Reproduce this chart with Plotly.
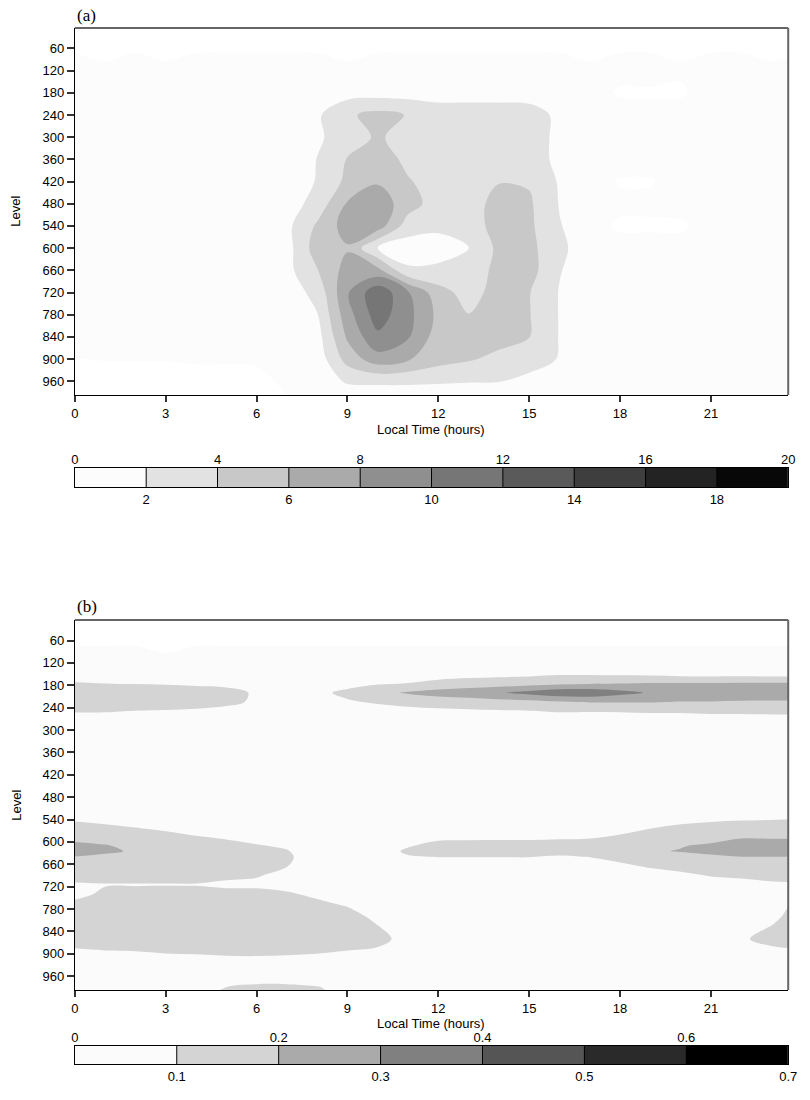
import plotly.graph_objects as go

# ---------------- data ----------------
hours = [0, 1, 2, 3, 4, 5, 6, 7, 8, 9, 10, 11, 12, 13, 14, 15, 16, 17, 18, 19, 20, 21, 22, 23, 24]
x_ticks = [0, 3, 6, 9, 12, 15, 18, 21]
level_ticks = [60, 120, 180, 240, 300, 360, 420, 480, 540, 600, 660, 720, 780, 840, 900, 960]

# panel (a)
levels_a = [0, 60, 120, 180, 240, 300, 360, 420, 480, 540, 600, 660, 720, 780, 840, 900, 960, 1020]
values_a = [
    [-0.5, -0.5, -0.5, -0.5, -0.5, -0.5, -0.5, -0.5, -0.5, -0.5, -0.5, -0.5, -0.5, -0.5, -0.5, -0.5, -0.5, -0.5, -0.5, -0.5, -0.5, -0.5, -0.5, -0.5, -0.5],
    [-0.2, -0.4, -0.2, -0.4, -0.2, -0.2, -0.2, -0.2, -0.2, -0.4, -0.2, -0.2, -0.2, -0.2, -0.2, -0.2, -0.2, -0.4, -0.2, -0.2, -0.4, -0.2, -0.2, -0.4, -0.2],
    [0.8, 0.3, 0.8, 0.3, 0.8, 0.8, 0.8, 0.8, 0.8, 0.3, 0.8, 0.8, 0.8, 0.8, 0.8, 0.8, 0.8, 0.3, 0.8, 0.8, 0.3, 0.8, 0.8, 0.3, 0.8],
    [1.0, 1.0, 1.0, 1.0, 1.0, 1.0, 1.0, 1.0, 1.2, 1.2, 1.2, 1.2, 1.2, 1.2, 1.2, 1.2, 1.0, 1.0, -0.3, -0.3, -0.3, 1.0, 1.0, 1.0, 1.0],
    [1.0, 1.0, 1.0, 1.0, 1.0, 1.0, 1.0, 0.8, 1.7, 3.7, 4.6, 3.9, 3.0, 3.0, 3.0, 2.8, 1.6, 1.0, 1.0, 1.0, 1.0, 1.0, 1.0, 1.0, 1.0],
    [1.0, 1.0, 1.0, 1.0, 1.0, 1.0, 1.0, 0.8, 1.6, 3.3, 4.2, 3.4, 3.0, 3.0, 3.0, 2.8, 1.6, 1.0, 1.0, 1.0, 1.0, 1.0, 1.0, 1.0, 1.0],
    [1.0, 1.0, 1.0, 1.0, 1.0, 1.0, 1.0, 0.9, 2.05, 4.1, 5.3, 3.4, 3.0, 3.0, 2.9, 2.8, 1.6, 1.0, 1.0, 1.0, 1.0, 1.0, 1.0, 1.0, 1.0],
    [1.0, 1.0, 1.0, 1.0, 1.0, 1.0, 1.0, 1.0, 2.1, 4.5, 5.8, 4.2, 3.0, 2.9, 3.9, 3.8, 1.8, 1.0, -0.2, -0.2, 1.0, 1.0, 1.0, 1.0, 1.0],
    [1.0, 1.0, 1.0, 1.0, 1.0, 1.0, 1.0, 1.0, 2.8, 6.2, 7.2, 4.9, 3.0, 3.0, 4.8, 4.3, 1.9, 1.0, 0.6, 0.6, 1.0, 1.0, 1.0, 1.0, 1.0],
    [1.0, 1.0, 1.0, 1.0, 1.0, 1.0, 1.0, 1.5, 4.3, 6.9, 7.0, 3.0, 2.4, 3.0, 4.8, 4.4, 2.1, 1.0, -0.4, -0.4, -0.4, 1.0, 1.0, 1.0, 1.0],
    [1.0, 1.0, 1.0, 1.0, 1.0, 1.0, 1.0, 1.2, 5.0, 5.8, 1.9, 1.0, 1.2, 1.9, 4.5, 4.6, 2.4, 1.0, 1.0, 1.0, 1.0, 1.0, 1.0, 1.0, 1.0],
    [1.0, 1.0, 1.0, 1.0, 1.0, 1.0, 1.0, 1.4, 3.9, 6.8, 6.6, 2.3, 2.4, 2.8, 4.6, 4.8, 2.1, 1.0, 1.0, 1.0, 1.0, 1.0, 1.0, 1.0, 1.0],
    [1.0, 1.0, 1.0, 1.0, 1.0, 1.0, 1.0, 1.0, 2.6, 7.8, 11.5, 8.2, 4.8, 3.2, 4.8, 4.1, 1.9, 1.0, 1.0, 1.0, 1.0, 1.0, 1.0, 1.0, 1.0],
    [1.0, 1.0, 1.0, 1.0, 1.0, 1.0, 1.0, 0.8, 1.9, 7.2, 11.0, 8.6, 5.5, 4.05, 4.7, 4.1, 1.9, 1.0, 1.0, 1.0, 1.0, 1.0, 1.0, 1.0, 1.0],
    [1.0, 1.0, 1.0, 1.0, 1.0, 1.0, 1.0, 0.8, 1.2, 6.3, 9.6, 8.2, 5.0, 4.7, 4.7, 4.05, 1.9, 1.0, 1.0, 1.0, 1.0, 1.0, 1.0, 1.0, 1.0],
    [-0.02, 0.05, 0.05, 0.05, 0.15, 0.15, 0.15, 0.6, 0.8, 4.8, 7.2, 6.2, 4.8, 4.2, 3.5, 2.8, 1.9, 1.0, 1.0, 1.0, 1.0, 1.0, 1.0, 1.0, 1.0],
    [-0.5, -0.5, -0.5, -0.5, -0.5, -0.5, -0.3, 0.2, 1.0, 2.2, 2.3, 2.3, 2.2, 2.1, 2.05, 1.5, 1.2, 1.0, 1.0, 1.0, 1.0, 1.0, 1.0, 1.0, 1.0],
    [-0.5, -0.5, -0.5, -0.5, -0.5, -0.5, -0.5, -0.1, 0.3, 0.5, 0.5, 0.5, 0.5, 0.5, 0.5, 0.5, 0.8, 0.8, 0.8, 0.8, 0.8, 0.8, 0.8, 0.8, 0.8],
]
bounds_a = [0, 2, 4, 6, 8, 10, 12, 14, 16, 18, 20]
grays_a = [252, 226, 200, 170, 143, 118, 90, 62, 35, 8]
top_labels_a = [0, 4, 8, 12, 16, 20]
bottom_labels_a = [2, 6, 10, 14, 18]

# panel (b)
levels_b = [0, 60, 120, 150, 175, 200, 225, 250, 275, 320, 500, 540, 565, 590, 610, 625, 640,
            665, 690, 715, 740, 770, 800, 830, 860, 890, 920, 960, 990, 1020]
values_b = [
    [-0.3, -0.3, -0.3, -0.3, -0.3, -0.3, -0.3, -0.3, -0.3, -0.3, -0.3, -0.3, -0.3, -0.3, -0.3, -0.3, -0.3, -0.3, -0.3, -0.3, -0.3, -0.3, -0.3, -0.3, -0.3],
    [-0.02, -0.02, -0.02, -0.05, -0.02, -0.02, -0.02, -0.02, -0.02, -0.02, -0.02, -0.02, -0.02, -0.02, -0.02, -0.02, -0.02, -0.02, -0.02, -0.02, -0.02, -0.02, -0.02, -0.02, -0.02],
    [0.06, 0.06, 0.06, 0.04, 0.06, 0.06, 0.06, 0.06, 0.06, 0.06, 0.06, 0.06, 0.06, 0.06, 0.06, 0.06, 0.06, 0.06, 0.06, 0.06, 0.06, 0.06, 0.06, 0.06, 0.06],
    [0.06, 0.06, 0.06, 0.05, 0.05, 0.05, 0.05, 0.05, 0.05, 0.05, 0.05, 0.06, 0.07, 0.07, 0.075, 0.08, 0.09, 0.09, 0.085, 0.08, 0.07, 0.065, 0.065, 0.06, 0.06],
    [0.105, 0.1, 0.095, 0.09, 0.08, 0.07, 0.06, 0.05, 0.055, 0.07, 0.09, 0.102, 0.12, 0.14, 0.15, 0.16, 0.18, 0.19, 0.198, 0.205, 0.205, 0.205, 0.21, 0.21, 0.21],
    [0.16, 0.16, 0.16, 0.155, 0.15, 0.14, 0.085, 0.06, 0.08, 0.12, 0.17, 0.21, 0.24, 0.26, 0.29, 0.33, 0.37, 0.37, 0.33, 0.29, 0.28, 0.27, 0.26, 0.25, 0.25],
    [0.16, 0.16, 0.16, 0.155, 0.15, 0.13, 0.08, 0.06, 0.075, 0.09, 0.11, 0.13, 0.14, 0.15, 0.16, 0.17, 0.19, 0.205, 0.205, 0.205, 0.195, 0.195, 0.19, 0.19, 0.19],
    [0.105, 0.105, 0.095, 0.09, 0.08, 0.06, 0.05, 0.05, 0.05, 0.05, 0.06, 0.07, 0.08, 0.085, 0.09, 0.095, 0.105, 0.103, 0.105, 0.11, 0.11, 0.115, 0.115, 0.12, 0.12],
    [0.06, 0.055, 0.05, 0.05, 0.05, 0.05, 0.05, 0.05, 0.05, 0.05, 0.05, 0.05, 0.05, 0.05, 0.05, 0.05, 0.055, 0.05, 0.05, 0.055, 0.055, 0.06, 0.06, 0.06, 0.06],
    [0.05, 0.05, 0.05, 0.05, 0.05, 0.05, 0.05, 0.05, 0.05, 0.05, 0.05, 0.05, 0.05, 0.05, 0.05, 0.05, 0.05, 0.05, 0.05, 0.05, 0.05, 0.05, 0.05, 0.05, 0.05],
    [0.05, 0.05, 0.05, 0.05, 0.05, 0.05, 0.05, 0.05, 0.05, 0.05, 0.05, 0.05, 0.05, 0.05, 0.05, 0.05, 0.05, 0.05, 0.05, 0.05, 0.05, 0.05, 0.05, 0.05, 0.05],
    [0.09, 0.08, 0.07, 0.06, 0.05, 0.05, 0.05, 0.05, 0.05, 0.05, 0.05, 0.05, 0.05, 0.05, 0.05, 0.05, 0.05, 0.05, 0.05, 0.06, 0.08, 0.09, 0.095, 0.098, 0.102],
    [0.14, 0.12, 0.105, 0.09, 0.07, 0.06, 0.05, 0.05, 0.05, 0.05, 0.05, 0.05, 0.05, 0.05, 0.05, 0.05, 0.05, 0.055, 0.07, 0.102, 0.12, 0.13, 0.14, 0.14, 0.14],
    [0.18, 0.17, 0.15, 0.13, 0.11, 0.095, 0.08, 0.07, 0.05, 0.05, 0.05, 0.07, 0.09, 0.09, 0.09, 0.09, 0.095, 0.098, 0.12, 0.15, 0.16, 0.17, 0.198, 0.195, 0.195],
    [0.22, 0.205, 0.18, 0.16, 0.14, 0.125, 0.105, 0.09, 0.05, 0.05, 0.06, 0.095, 0.12, 0.125, 0.13, 0.13, 0.13, 0.13, 0.14, 0.18, 0.195, 0.215, 0.25, 0.26, 0.26],
    [0.24, 0.215, 0.19, 0.17, 0.155, 0.14, 0.125, 0.105, 0.05, 0.05, 0.07, 0.11, 0.13, 0.13, 0.135, 0.135, 0.13, 0.135, 0.15, 0.19, 0.205, 0.23, 0.26, 0.27, 0.27],
    [0.198, 0.18, 0.17, 0.165, 0.16, 0.15, 0.14, 0.115, 0.05, 0.05, 0.06, 0.095, 0.102, 0.102, 0.102, 0.102, 0.09, 0.102, 0.13, 0.16, 0.17, 0.18, 0.198, 0.198, 0.198],
    [0.16, 0.15, 0.15, 0.15, 0.15, 0.145, 0.13, 0.102, 0.05, 0.05, 0.05, 0.06, 0.06, 0.06, 0.06, 0.06, 0.06, 0.065, 0.08, 0.11, 0.13, 0.145, 0.16, 0.16, 0.16],
    [0.13, 0.13, 0.13, 0.13, 0.13, 0.12, 0.105, 0.08, 0.05, 0.05, 0.05, 0.05, 0.05, 0.05, 0.05, 0.05, 0.05, 0.05, 0.05, 0.06, 0.08, 0.105, 0.115, 0.125, 0.13],
    [0.09, 0.095, 0.095, 0.095, 0.095, 0.08, 0.085, 0.075, 0.06, 0.05, 0.05, 0.05, 0.05, 0.05, 0.05, 0.05, 0.05, 0.05, 0.05, 0.05, 0.05, 0.06, 0.07, 0.085, 0.09],
    [0.07, 0.12, 0.13, 0.14, 0.14, 0.135, 0.125, 0.11, 0.085, 0.06, 0.05, 0.05, 0.05, 0.05, 0.05, 0.05, 0.05, 0.05, 0.05, 0.05, 0.05, 0.05, 0.05, 0.06, 0.08],
    [0.13, 0.16, 0.17, 0.18, 0.18, 0.175, 0.17, 0.15, 0.12, 0.095, 0.06, 0.05, 0.05, 0.05, 0.05, 0.05, 0.05, 0.05, 0.05, 0.05, 0.05, 0.05, 0.05, 0.07, 0.12],
    [0.16, 0.17, 0.18, 0.19, 0.19, 0.19, 0.185, 0.17, 0.15, 0.13, 0.08, 0.05, 0.05, 0.05, 0.05, 0.05, 0.05, 0.05, 0.05, 0.05, 0.05, 0.05, 0.05, 0.08, 0.14],
    [0.17, 0.17, 0.18, 0.19, 0.19, 0.19, 0.185, 0.17, 0.16, 0.145, 0.105, 0.06, 0.05, 0.05, 0.05, 0.05, 0.05, 0.05, 0.05, 0.05, 0.05, 0.05, 0.07, 0.105, 0.15],
    [0.15, 0.15, 0.16, 0.17, 0.175, 0.175, 0.17, 0.16, 0.15, 0.14, 0.125, 0.07, 0.05, 0.05, 0.05, 0.05, 0.05, 0.05, 0.05, 0.05, 0.05, 0.06, 0.09, 0.125, 0.14],
    [0.09, 0.102, 0.105, 0.115, 0.12, 0.13, 0.135, 0.125, 0.115, 0.102, 0.09, 0.06, 0.05, 0.05, 0.05, 0.05, 0.05, 0.05, 0.05, 0.05, 0.05, 0.05, 0.06, 0.085, 0.095],
    [0.06, 0.06, 0.06, 0.065, 0.065, 0.07, 0.07, 0.07, 0.07, 0.06, 0.06, 0.05, 0.05, 0.05, 0.05, 0.05, 0.05, 0.05, 0.05, 0.05, 0.05, 0.05, 0.05, 0.055, 0.06],
    [0.05, 0.05, 0.05, 0.05, 0.05, 0.05, 0.05, 0.05, 0.05, 0.05, 0.05, 0.05, 0.05, 0.05, 0.05, 0.05, 0.05, 0.05, 0.05, 0.05, 0.05, 0.05, 0.05, 0.05, 0.05],
    [0.05, 0.05, 0.05, 0.05, 0.07, 0.101, 0.12, 0.12, 0.105, 0.07, 0.05, 0.05, 0.05, 0.05, 0.05, 0.05, 0.05, 0.05, 0.05, 0.05, 0.05, 0.05, 0.05, 0.05, 0.05],
    [0.05, 0.05, 0.05, 0.05, 0.08, 0.13, 0.14, 0.14, 0.13, 0.08, 0.05, 0.05, 0.05, 0.05, 0.05, 0.05, 0.05, 0.05, 0.05, 0.05, 0.05, 0.05, 0.05, 0.05, 0.05],
]
bounds_b = [0, 0.1, 0.2, 0.3, 0.4, 0.5, 0.6, 0.7]
grays_b = [251, 212, 170, 128, 85, 42, 0]
top_labels_b = [0, 0.2, 0.4, 0.6]
bottom_labels_b = [0.1, 0.3, 0.5, 0.7]

# ---------------- helpers ----------------
W, H = 810, 1100
FONT = "Liberation Sans, Arial, Helvetica, sans-serif"
SERIF = "Liberation Serif, Times New Roman, serif"


def px_x(p):
    return p / W


def px_y(p):
    return 1 - p / H


def gray(v):
    return f"rgb({v},{v},{v})"


def step_scale(bounds, grays):
    """Stepwise colour scale matching plotly contour fill mapping
    (z domain = [start - size/2, end + size/2])."""
    size = bounds[1] - bounds[0]
    lo = bounds[0] - size / 2
    hi = bounds[-1] + size / 2
    cols = [gray(255)] + [gray(g) for g in grays] + [gray(grays[-1])]
    edges = [lo] + list(bounds) + [hi]
    cs = []
    for i, c in enumerate(cols):
        s0 = (edges[i] - lo) / (hi - lo)
        s1 = (edges[i + 1] - lo) / (hi - lo)
        cs.append([max(0.0, min(1.0, s0)), c])
        cs.append([max(0.0, min(1.0, s1)), c])
    return cs, lo, hi


cs_a, lo_a, hi_a = step_scale(bounds_a, grays_a)
cs_b, lo_b, hi_b = step_scale(bounds_b, grays_b)

fig = go.Figure()

# main contours
fig.add_trace(go.Contour(
    x=hours, y=levels_a, z=values_a, xaxis="x", yaxis="y",
    colorscale=cs_a, zmin=lo_a, zmax=hi_a, autocontour=False,
    contours=dict(start=bounds_a[0], end=bounds_a[-1], size=bounds_a[1] - bounds_a[0],
                  coloring="fill", showlines=False),
    line=dict(width=0), showscale=False, hoverinfo="skip"))

fig.add_trace(go.Contour(
    x=hours, y=levels_b, z=values_b, xaxis="x2", yaxis="y2",
    colorscale=cs_b, zmin=lo_b, zmax=hi_b, autocontour=False,
    contours=dict(start=bounds_b[0], end=bounds_b[-1], size=round(bounds_b[1] - bounds_b[0], 6),
                  coloring="fill", showlines=False),
    line=dict(width=0), showscale=False, hoverinfo="skip"))


# colour bars as heatmaps
def add_bar(bounds, cs, lo, hi, xa, ya, xtop):
    mids = [(bounds[i] + bounds[i + 1]) / 2 for i in range(len(bounds) - 1)]
    fig.add_trace(go.Heatmap(x=mids, y=[0], z=[mids], colorscale=cs, zmin=lo, zmax=hi,
                             showscale=False, hoverinfo="skip", xaxis=xa, yaxis=ya))
    sx, sy = [], []
    for b in bounds[1:-1]:
        sx += [b, b, None]
        sy += [-0.5, 0.5, None]
    fig.add_trace(go.Scatter(x=sx, y=sy, mode="lines", line=dict(color="black", width=1),
                             hoverinfo="skip", showlegend=False, xaxis=xa, yaxis=ya))
    fig.add_trace(go.Scatter(x=[bounds[0], bounds[-1]], y=[0, 0], mode="markers",
                             marker=dict(opacity=0), hoverinfo="skip", showlegend=False,
                             xaxis=xtop, yaxis=ya))


add_bar(bounds_a, cs_a, lo_a, hi_a, "x3", "y3", "x5")
add_bar(bounds_b, cs_b, lo_b, hi_b, "x4", "y4", "x6")

XDOM = [px_x(72), px_x(797)]
YRANGE = [997, 5]
XRANGE = [0, 23.55]

tick_font = dict(family=FONT, size=13, color="black")
bar_font = dict(family=FONT, size=13, color="black")

main_x = dict(range=XRANGE, tickvals=x_ticks, ticks="outside", ticklen=6, tickwidth=1.5,
              tickcolor="#333", showline=True, linecolor="black", linewidth=1,
              showgrid=False, zeroline=False, tickfont=tick_font)
main_y = dict(range=YRANGE, tickvals=level_ticks, ticks="outside", ticklen=7, tickwidth=1.5,
              tickcolor="#333", showline=True, linecolor="black", linewidth=1,
              showgrid=False, zeroline=False, tickfont=tick_font)

bar_x = dict(showgrid=False, zeroline=False, showline=True, mirror=True, linecolor="black",
             linewidth=1, ticks="", tickfont=bar_font)
bar_y = dict(range=[-0.5, 0.5], showgrid=False, zeroline=False, showticklabels=False,
             ticks="", showline=True, mirror=True, linecolor="black", linewidth=1)

fig.update_layout(
    width=W, height=H, margin=dict(l=0, r=0, t=0, b=0),
    paper_bgcolor="white", plot_bgcolor="white", showlegend=False,
    xaxis=dict(domain=XDOM, anchor="y", **main_x),
    yaxis=dict(domain=[px_y(395), px_y(28)], anchor="x", **main_y),
    xaxis2=dict(domain=XDOM, anchor="y2", **main_x),
    yaxis2=dict(domain=[px_y(990), px_y(620)], anchor="x2", **main_y),
    xaxis3=dict(domain=XDOM, anchor="y3", range=[bounds_a[0], bounds_a[-1]],
                tickvals=bottom_labels_a, side="bottom", **bar_x),
    yaxis3=dict(domain=[px_y(487), px_y(468)], anchor="x3", **bar_y),
    xaxis5=dict(overlaying="x3", anchor="y3", range=[bounds_a[0], bounds_a[-1]],
                tickvals=top_labels_a, side="top", showgrid=False, zeroline=False,
                showline=False, ticks="", tickfont=bar_font),
    xaxis4=dict(domain=XDOM, anchor="y4", range=[bounds_b[0], bounds_b[-1]],
                tickvals=bottom_labels_b, ticktext=[str(v) for v in bottom_labels_b],
                side="bottom", **bar_x),
    yaxis4=dict(domain=[px_y(1064), px_y(1046)], anchor="x4", **bar_y),
    xaxis6=dict(overlaying="x4", anchor="y4", range=[bounds_b[0], bounds_b[-1]],
                tickvals=top_labels_b, ticktext=[str(v) for v in top_labels_b],
                side="top", showgrid=False, zeroline=False, showline=False, ticks="",
                tickfont=bar_font),
)

# top / right frame lines of the two panels
for xr, yr in (("x domain", "y domain"), ("x2 domain", "y2 domain")):
    fig.add_shape(type="line", xref=xr, yref=yr, x0=0, x1=1, y0=1, y1=1,
                  line=dict(color="#666", width=2))
    fig.add_shape(type="line", xref=xr, yref=yr, x0=1, x1=1, y0=0, y1=1,
                  line=dict(color="#666", width=2))

ann_font = dict(family=FONT, size=13, color="black")
for label, ty, ly, xy in (("(a)", 15, 211, 429), ("(b)", 607, 805, 1023)):
    fig.add_annotation(text=label, x=px_x(72), y=px_y(ty), xref="paper", yref="paper",
                       xanchor="left", yanchor="middle", showarrow=False,
                       font=dict(family=SERIF, size=17, color="black"))
    fig.add_annotation(text="Level", x=px_x(12), y=px_y(ly), xref="paper", yref="paper",
                       textangle=-90, xanchor="center", yanchor="middle", showarrow=False,
                       font=ann_font)
    fig.add_annotation(text="Local Time (hours)", x=px_x(434), y=px_y(xy), xref="paper",
                       yref="paper", xanchor="center", yanchor="middle", showarrow=False,
                       font=ann_font)

fig.write_html("out.html")
